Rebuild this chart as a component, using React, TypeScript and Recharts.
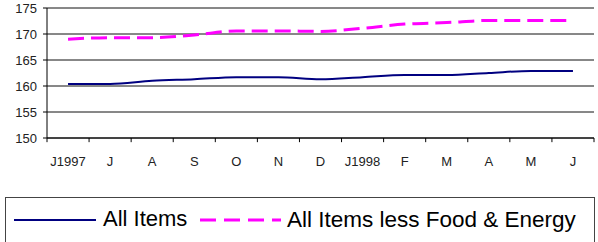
import React from "react";
import { LineChart, Line, XAxis, YAxis, CartesianGrid, Legend, ReferenceLine } from "recharts";

const months = ["J1997", "J", "A", "S", "O", "N", "D", "J1998", "F", "M", "A", "M", "J"];
const allItems = [160.4, 160.4, 161.0, 161.3, 161.7, 161.7, 161.3, 161.7, 162.1, 162.1, 162.5, 162.9, 162.9];
const coreItems = [169.0, 169.3, 169.3, 169.8, 170.6, 170.6, 170.5, 171.1, 171.9, 172.2, 172.6, 172.6, 172.6];
const yTicks = [150, 155, 160, 165, 170, 175];
const seriesNames = ["All Items", "All Items less Food & Energy"];
const edgeTicks = months.map((_, i) => i).concat([months.length]);

const data = months.map((m, i) => ({ idx: i, edge: i + 0.5, month: m, all: allItems[i], core: coreItems[i] }));

const FONT = "'Liberation Sans', Arial, sans-serif";
const Y_MIN = 150;
const TICK_LEN_UNITS = 0.8;

const LegendBox = () => (
  <div style={{ width: 590, height: 46, border: "1px solid #444", boxSizing: "border-box", background: "#fff" }}>
    <svg width={588} height={44} style={{ display: "block" }}>
      <line x1={8} x2={90} y1={22} y2={22} stroke="#000080" strokeWidth={2} />
      <text x={97} y={20.5} dy="0.36em" fontSize={22} fontFamily={FONT} fill="#000">{seriesNames[0]}</text>
      <line x1={194} x2={275} y1={22} y2={22} stroke="#FF00FF" strokeWidth={3} strokeDasharray="16 8" />
      <text x={281} y={20.5} dy="0.36em" fontSize={22.5} fontFamily={FONT} fill="#000">{seriesNames[1]}</text>
    </svg>
  </div>
);

export default function App() {
  return (
    <div style={{ position: "absolute", left: 0, top: 0, background: "#fff" }}>
      <LineChart width={598} height={242} data={data} margin={{ top: 8, right: 4, left: 0, bottom: 0 }}>
        <CartesianGrid vertical={false} stroke="#111" />
        <XAxis
          xAxisId="edges"
          type="number"
          dataKey="edge"
          domain={[0, months.length]}
          allowDataOverflow
          hide
        />
        <XAxis
          dataKey="idx"
          type="category"
          scale="band"
          interval={0}
          height={104}
          tickLine={false}
          axisLine={{ stroke: "#000" }}
          tickSize={4}
          tickMargin={15}
          tickFormatter={(v: any) => months[Number(v)] ?? ""}
          tick={{ fontSize: 13, fill: "#222", fontFamily: FONT }}
        />
        <YAxis
          domain={[Y_MIN, 175]}
          ticks={yTicks}
          width={47}
          tickSize={4}
          tickMargin={6}
          allowDataOverflow
          axisLine={{ stroke: "#000" }}
          tickLine={{ stroke: "#000" }}
          tick={{ fontSize: 13, fill: "#222", fontFamily: FONT }}
        />
        {edgeTicks.map((e) => (
          <ReferenceLine
            key={e}
            xAxisId="edges"
            ifOverflow="visible"
            stroke="#000"
            segment={[{ x: e, y: Y_MIN }, { x: e, y: Y_MIN - TICK_LEN_UNITS }]}
          />
        ))}
        <Line type="monotone" dataKey="all" stroke="#000080" strokeWidth={2} dot={false} isAnimationActive={false} />
        <Line type="monotone" dataKey="core" stroke="#FF00FF" strokeWidth={3} strokeDasharray="16 7" dot={false} isAnimationActive={false} />
        <Legend
          layout="horizontal"
          verticalAlign="middle"
          content={() => <LegendBox />}
          wrapperStyle={{ top: 197, left: 5, width: 590, height: 46 }}
        />
      </LineChart>
    </div>
  );
}
